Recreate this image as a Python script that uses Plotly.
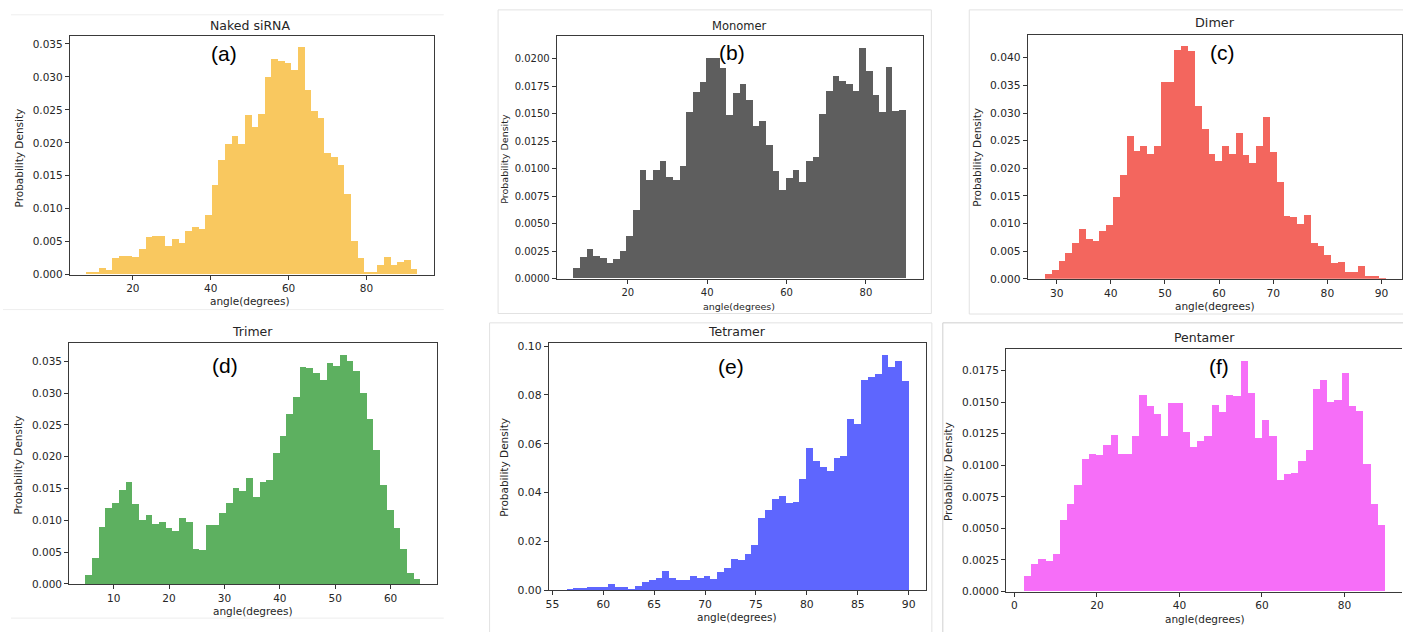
import numpy as np
import plotly.graph_objects as go

W, H = 1403, 632

# ---------------- data ----------------
titles = ["Naked siRNA", "Monomer", "Dimer", "Trimer", "Tetramer", "Pentamer"]
labels = ["(a)", "(b)", "(c)", "(d)", "(e)", "(f)"]
colors = ["#F9C85F", "#5E5E5E", "#F3665E", "#5DB060", "#5E66FE", "#F66EF8"]

# histogram bin starts and widths (degrees), 50 bins each
bin_start = [7.88, 6.17, 27.79, 4.90, 56.37, 2.34]
bin_width = [1.702, 1.676, 1.259, 1.210, 0.6726, 1.750]

dens_a = [0.00035, 0.00035, 0.00095, 0.0007, 0.0024, 0.0028, 0.0028, 0.0026, 0.0038, 0.0056,
          0.0058, 0.0058, 0.0042, 0.0054, 0.0048, 0.0065, 0.0071, 0.0068, 0.0090, 0.0135,
          0.0173, 0.0197, 0.0210, 0.0197, 0.0242, 0.0223, 0.0243, 0.0299, 0.0327, 0.0324,
          0.0321, 0.0310, 0.0344, 0.0279, 0.0248, 0.0237, 0.0184, 0.0178, 0.0165, 0.0121,
          0.0051, 0.0024, 0.0004, 0.0004, 0.0014, 0.0026, 0.0014, 0.0018, 0.0022, 0.0008]
dens_b = [0.00096, 0.00194, 0.00266, 0.00203, 0.00179, 0.00134, 0.00173, 0.00251, 0.00379, 0.00621,
          0.00985, 0.00896, 0.00985, 0.01066, 0.00916, 0.00896, 0.01024, 0.01516, 0.01690, 0.01782,
          0.0200, 0.02006, 0.01913, 0.01481, 0.01681, 0.01767, 0.01624, 0.01382, 0.0143, 0.01215,
          0.00973, 0.0080, 0.00907, 0.00985, 0.00872, 0.01069, 0.01104, 0.0149, 0.0170, 0.01836,
          0.01794, 0.01764, 0.0170, 0.02093, 0.01887, 0.01666, 0.01516, 0.01919, 0.01525, 0.01531]
dens_c = [0.00083, 0.00166, 0.00332, 0.00469, 0.00659, 0.00908, 0.00718, 0.00694, 0.00861, 0.00985,
          0.01478, 0.01887, 0.02588, 0.0232, 0.0240, 0.02255, 0.0240, 0.03573, 0.03573, 0.04149,
          0.04208, 0.04131, 0.03128, 0.02718, 0.02255, 0.02137, 0.0240, 0.02255, 0.02635, 0.02238,
          0.02095, 0.02404, 0.02938, 0.02297, 0.01763, 0.01134, 0.01122, 0.00991, 0.01157, 0.00659,
          0.00600, 0.00427, 0.00285, 0.00303, 0.00125, 0.00125, 0.00243, 0.00053, 0.00053, 0.00024]
dens_d = [0.00139, 0.00412, 0.00897, 0.01191, 0.01273, 0.01479, 0.01593, 0.01258, 0.00995, 0.01077,
          0.00943, 0.00969, 0.00871, 0.00825, 0.01041, 0.00969, 0.00541, 0.00526, 0.00928, 0.00923,
          0.01113, 0.01268, 0.0151, 0.01464, 0.01665, 0.01361, 0.01603, 0.01634, 0.02062, 0.0233,
          0.0267, 0.02943, 0.03413, 0.03387, 0.03309, 0.03206, 0.03469, 0.03423, 0.03593, 0.03495,
          0.03351, 0.0300, 0.02588, 0.02098, 0.01557, 0.01165, 0.00871, 0.00546, 0.00165, 0.00072]
dens_e = [0.0004, 0.0007, 0.0007, 0.0013, 0.0011, 0.0011, 0.0023, 0.0011, 0.0013, 0.0004,
          0.0016, 0.0031, 0.0043, 0.0050, 0.0077, 0.0050, 0.0043, 0.0040, 0.0056, 0.0050,
          0.0059, 0.0046, 0.0073, 0.0089, 0.0128, 0.0122, 0.0146, 0.0185, 0.0297, 0.0329,
          0.0372, 0.0384, 0.0355, 0.0359, 0.0454, 0.0582, 0.0527, 0.0503, 0.0489, 0.0542,
          0.0548, 0.0699, 0.0681, 0.0860, 0.0871, 0.0884, 0.0962, 0.0915, 0.0937, 0.0857]
dens_f = [0.00122, 0.00218, 0.00254, 0.00241, 0.00299, 0.00566, 0.00691, 0.00841, 0.01046, 0.0109,
          0.01083, 0.01158, 0.01236, 0.0109, 0.0109, 0.01233, 0.01555, 0.01464, 0.01402, 0.01228,
          0.01493, 0.01488, 0.01259, 0.01145, 0.01194, 0.01228, 0.01477, 0.0142, 0.01558, 0.0155,
          0.01825, 0.01568, 0.01215, 0.01355, 0.01228, 0.0088, 0.00927, 0.0094, 0.01033, 0.01116,
          0.01605, 0.01677, 0.01501, 0.01519, 0.01732, 0.0147, 0.01425, 0.0101, 0.00691, 0.00527]
densities = [dens_a, dens_b, dens_c, dens_d, dens_e, dens_f]

x_ticks = [[20, 40, 60, 80], [20, 40, 60, 80], [30, 40, 50, 60, 70, 80, 90],
           [10, 20, 30, 40, 50, 60], [55, 60, 65, 70, 75, 80, 85, 90], [0, 20, 40, 60, 80]]
y_ticks = [[0, 0.005, 0.01, 0.015, 0.02, 0.025, 0.03, 0.035],
           [0, 0.0025, 0.005, 0.0075, 0.01, 0.0125, 0.015, 0.0175, 0.02],
           [0, 0.005, 0.01, 0.015, 0.02, 0.025, 0.03, 0.035, 0.04],
           [0, 0.005, 0.01, 0.015, 0.02, 0.025, 0.03, 0.035],
           [0, 0.02, 0.04, 0.06, 0.08, 0.10],
           [0, 0.0025, 0.005, 0.0075, 0.01, 0.0125, 0.015, 0.0175]]
y_fmt = [".3f", ".4f", ".3f", ".3f", ".2f", ".4f"]

# ---------------- layout (pixels) ----------------
# plot areas: left, right, top, bottom
areas = [(67, 432, 34, 276), (555.3, 922.7, 34, 280), (1027.7, 1402.5, 32.3, 280.3),
         (66.3, 435.7, 345.7, 590.3), (547.3, 925.3, 345.7, 596.7), (1006, 1403, 351.7, 598)]
x_ranges = [(3.8, 97.3), (2.07, 94.4), (24.66, 93.69), (1.96, 68.46), (54.64, 91.67), (-2.01, 93.94)]
y_tops = [0.03614, 0.02203, 0.04415, 0.03784, 0.1012, 0.01919]
title_pos = [(248, 23), (738.7, 23), (1215, 20), (250, 334), (735.7, 334), (1205, 340)]
xlab_pos = [(248, 303), (738, 308), (1215, 308), (250.7, 617.7), (736, 624.3), (1205.3, 625.7)]
ylab_pos = [(16, 157), (502.7, 158), (976, 157), (15, 469), (501.7, 472), (948.3, 476)]
lab_pos = [(222, 51), (731, 50), (1223, 50), (223, 368), (730, 369), (1219, 369)]
tick_size = [10.5, 10, 10.7, 10.5, 10.8, 10.6]
title_size = [12.5, 11.5, 12.8, 12.5, 12.5, 12.5]
lab_size = [10.5, 9.5, 10.5, 10.5, 10.5, 10.5]

def px(x):
    return x / W

def py(y):
    return 1 - y / H

fig = go.Figure()
FONT = "DejaVu Sans"
TXT = "#262626"
annotations = []
for i in range(6):
    centers = bin_start[i] + bin_width[i] * (np.arange(len(densities[i])) + 0.5)
    sfx = "" if i == 0 else str(i + 1)
    fig.add_trace(go.Bar(x=centers, y=densities[i], width=bin_width[i],
                         marker=dict(color=colors[i], line=dict(width=0)),
                         xaxis="x" + sfx, yaxis="y" + sfx, showlegend=False))
    l, r, t, b = areas[i]
    xa = dict(domain=[px(l), px(r)], range=list(x_ranges[i]), anchor="y" + sfx,
              tickvals=x_ticks[i], ticks="outside", ticklen=4, tickcolor="#333",
              showline=True, linecolor="#3a3a3a", linewidth=1, mirror=True,
              showgrid=False, zeroline=False,
              tickfont=dict(family=FONT, size=tick_size[i], color=TXT))
    ya = dict(domain=[py(b), py(t)], range=[0, y_tops[i]], anchor="x" + sfx,
              tickvals=y_ticks[i], tickformat=y_fmt[i], ticks="outside", ticklen=4,
              tickcolor="#333", showline=True, linecolor="#3a3a3a", linewidth=1,
              mirror=(i != 5), showgrid=False, zeroline=False,
              tickfont=dict(family=FONT, size=tick_size[i], color=TXT))
    fig.update_layout(**{"xaxis" + sfx: xa, "yaxis" + sfx: ya})
    annotations.append(dict(text=titles[i], x=px(title_pos[i][0]), y=py(title_pos[i][1]),
                            xref="paper", yref="paper", showarrow=False,
                            xanchor="center", yanchor="middle",
                            font=dict(family=FONT, size=title_size[i], color=TXT)))
    annotations.append(dict(text="angle(degrees)", x=px(xlab_pos[i][0]), y=py(xlab_pos[i][1]),
                            xref="paper", yref="paper", showarrow=False,
                            xanchor="center", yanchor="middle",
                            font=dict(family=FONT, size=lab_size[i], color=TXT)))
    annotations.append(dict(text="Probability Density", x=px(ylab_pos[i][0]), y=py(ylab_pos[i][1]),
                            xref="paper", yref="paper", showarrow=False, textangle=-90,
                            xanchor="center", yanchor="middle",
                            font=dict(family=FONT, size=lab_size[i], color=TXT)))
    annotations.append(dict(text=labels[i], x=px(lab_pos[i][0]), y=py(lab_pos[i][1]),
                            xref="paper", yref="paper", showarrow=False,
                            xanchor="center", yanchor="middle",
                            font=dict(family="Liberation Sans", size=21, color="black")))

# light screenshot frames
frames = [
    (496.5, 931, 7, 315.5, "#e2e2e2"),
    (969, 1410, 7, 316, "#e2e2e2"),
    (488, 931.5, 325, 640, "#e2e2e2"),
    (942.5, 1410, 325, 640, "#cfcfcf"),
]
shapes = []
for (l, r, t, b, c) in frames:
    shapes.append(dict(type="rect", xref="paper", yref="paper",
                       x0=px(l), x1=px(r), y0=py(b), y1=py(t),
                       line=dict(color=c, width=1), layer="below"))
for (x0, x1, yy) in [(8, 442, 12), (0, 442, 311.5), (8, 442, 625)]:
    shapes.append(dict(type="line", xref="paper", yref="paper",
                       x0=px(x0), x1=px(x1), y0=py(yy), y1=py(yy),
                       line=dict(color="#eeeeee", width=1), layer="below"))

fig.update_layout(width=W, height=H, margin=dict(l=0, r=0, t=0, b=0),
                  paper_bgcolor="white", plot_bgcolor="white", bargap=0,
                  annotations=annotations, shapes=shapes)
fig.write_html("out.html", config={"displayModeBar": False},
               post_script="document.body.style.margin='0px';document.body.style.overflow='hidden';")
